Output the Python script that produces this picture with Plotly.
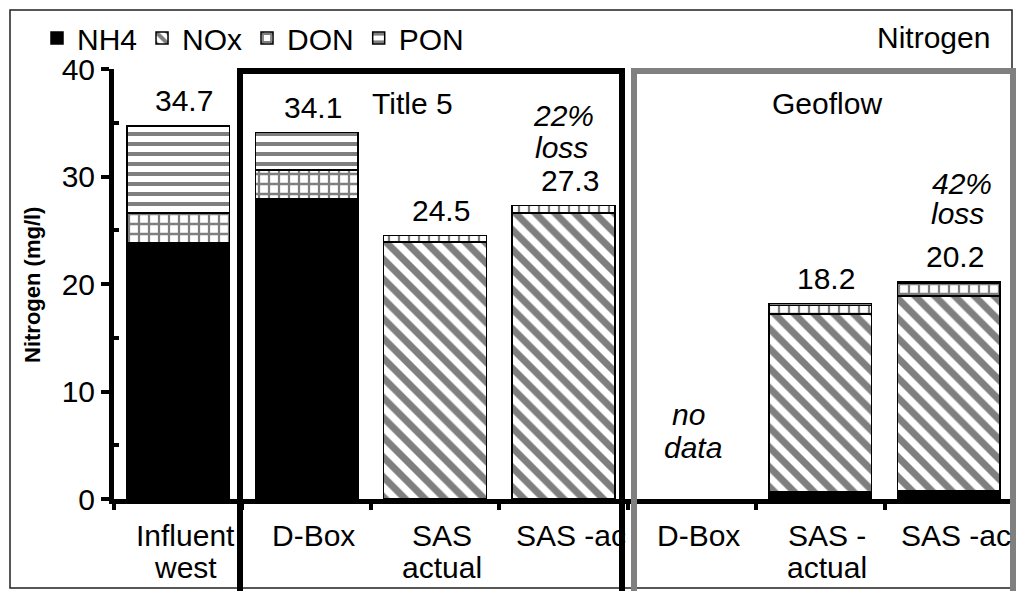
import plotly.graph_objects as go

# ---------------- data ----------------
cat_line1 = ["Influent", "D-Box", "SAS", "SAS -ac", "D-Box", "SAS -", "SAS -ac"]
cat_line2 = ["west", "", "actual", "", "", "actual", ""]
nh4 = [23.8, 27.9, 0.0, 0.0, None, 0.7, 0.8]
nox = [0.0, 0.0, 23.9, 26.6, None, 16.5, 18.1]
don = [2.8, 2.7, 0.6, 0.7, None, 0.8, 1.2]
pon = [8.1, 3.5, 0.0, 0.0, None, 0.2, 0.1]
y_ticks = [0, 10, 20, 30, 40]

# ---------------- geometry helpers ----------------
W, H = 1016, 591
ML, MR, MT, MB = 114, 3, 69, 92
PW, PH = W - ML - MR, H - MT - MB
FONT = "Liberation Sans, Arial, sans-serif"
FS = 30


def px(xp):
    return (xp - ML) / PW


def py(yp):
    return (H - MB - yp) / PH


xs = list(range(len(cat_line1)))
totals = []
for a, b, c, d in zip(nh4, nox, don, pon):
    totals.append(None if a is None else round(a + b + c + d, 1))

fig = go.Figure()
line = dict(color="black", width=1.5)
series = [
    ("NH4", nh4, dict(color="black", line=line)),
    ("NOx", nox, dict(color="white", line=line,
                      pattern=dict(shape="\\", fgcolor="black", bgcolor="white",
                                   size=14, solidity=0.5))),
    ("DON", don, dict(color="white", line=line,
                      pattern=dict(shape="+", fgcolor="black", bgcolor="white",
                                   size=10, solidity=0.4))),
    ("PON", pon, dict(color="white", line=line,
                      pattern=dict(shape="-", fgcolor="black", bgcolor="white",
                                   size=10, solidity=0.4))),
]
for name, vals, marker in series:
    fig.add_trace(go.Bar(x=xs, y=vals, name=name, marker=marker))


def tfont(size=FS):
    return dict(size=size, color="black", family=FONT)


annotations = []
# category labels (two lines)
for x, l1, l2 in zip(xs, cat_line1, cat_line2):
    annotations.append(dict(x=x, y=py(535), xref="x", yref="paper", text=l1,
                            showarrow=False, yanchor="middle", xshift=7, font=tfont()))
    if l2:
        annotations.append(dict(x=x, y=py(567), xref="x", yref="paper", text=l2,
                                showarrow=False, yanchor="middle", xshift=7, font=tfont()))

# totals above bars
for x, t in zip(xs, totals):
    if t is None:
        continue
    annotations.append(dict(x=x, y=t, xref="x", yref="y", text=f"{t:.1f}",
                            showarrow=False, yanchor="middle", xshift=6, yshift=25,
                            font=tfont()))

# italic notes (one annotation per line)
for txt, x, yp, xs_ in [("22%", 3, 115, 0), ("loss", 3, 147, -2),
                        ("42%", 6, 183, 13), ("loss", 6, 213, 9),
                        ("no", 4, 414, -3), ("data", 4, 447, 1)]:
    annotations.append(dict(x=x, y=py(yp), xref="x", yref="paper", text=f"<i>{txt}</i>",
                            showarrow=False, yanchor="middle", xshift=xs_, font=tfont()))

# titles
for txt, xp, yp in [("Title 5", 412, 103), ("Geoflow", 827, 103), ("Nitrogen", 933, 37)]:
    annotations.append(dict(x=px(xp), y=py(yp), xref="paper", yref="paper", text=txt,
                            showarrow=False, xanchor="center", yanchor="middle",
                            font=tfont()))
# y axis title
annotations.append(dict(x=px(32), y=py(285), xref="paper", yref="paper",
                        text="<b>Nitrogen (mg/l)</b>", textangle=-90, showarrow=False,
                        xanchor="center", yanchor="middle", font=tfont(22)))

shapes = [
    dict(type="rect", xref="paper", yref="paper", x0=px(10), x1=px(1012),
         y0=py(588), y1=py(10), line=dict(color="#202020", width=1.5)),
    dict(type="rect", xref="paper", yref="paper", x0=px(240), x1=px(622),
         y0=py(610), y1=py(71), line=dict(color="black", width=6)),
    dict(type="rect", xref="paper", yref="paper", x0=px(634), x1=px(1013),
         y0=py(610), y1=py(71), line=dict(color="#808080", width=6)),
]

fig.update_layout(
    width=W, height=H, autosize=False,
    margin=dict(l=ML, r=MR, t=MT, b=MB),
    barmode="stack", bargap=0.2,
    plot_bgcolor="white", paper_bgcolor="white",
    font=tfont(),
    showlegend=True,
    legend=dict(orientation="h", x=px(37), y=py(38), xanchor="left", yanchor="middle",
                font=tfont(), bgcolor="rgba(0,0,0,0)", traceorder="normal",
                itemwidth=30),
    annotations=annotations,
    shapes=shapes,
)
fig.update_xaxes(
    range=[-0.5, 6.5], tickvals=xs, showticklabels=False, ticks="",
    showline=True, linecolor="black", linewidth=5, showgrid=False, zeroline=False,
    minor=dict(tick0=-0.5, dtick=1, ticks="outside", ticklen=6, tickwidth=4,
               tickcolor="black", showgrid=False),
)
fig.update_yaxes(
    range=[0, 40], tickvals=y_ticks, ticks="outside", ticklen=8, tickwidth=4,
    tickcolor="black", showline=True, linecolor="black", linewidth=5,
    showgrid=False, zeroline=False, tickfont=tfont(),
    minor=dict(tick0=5, dtick=10, ticks="inside", ticklen=5, tickwidth=4,
               tickcolor="black", showgrid=False),
)

fig.write_html("out.html", config={"displayModeBar": False},
               post_script="document.body.style.margin='0px';")
